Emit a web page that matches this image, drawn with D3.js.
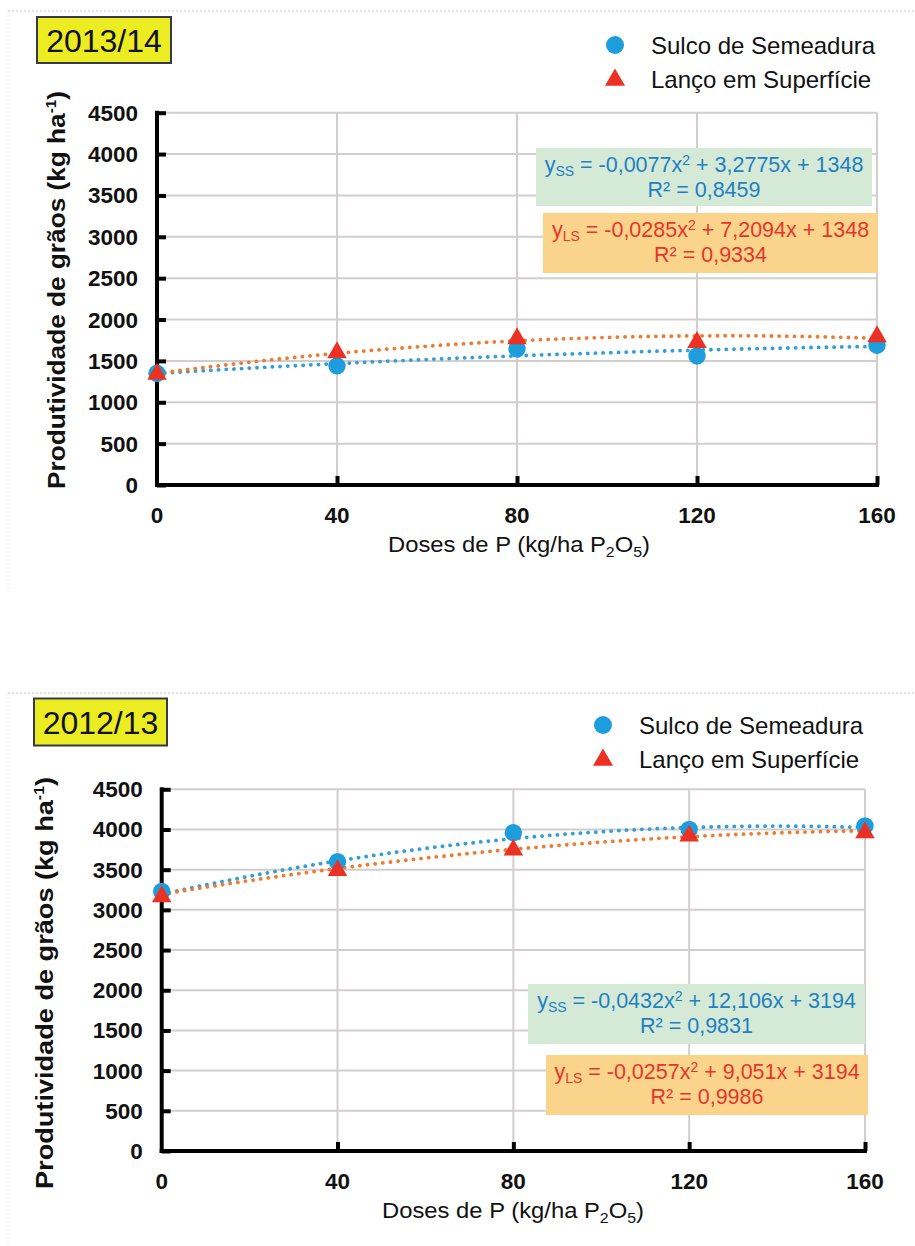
<!DOCTYPE html>
<html>
<head>
<meta charset="utf-8">
<script src="https://cdn.jsdelivr.net/npm/d3@7"></script>
<style>
  html, body { margin: 0; padding: 0; background: #ffffff; }
  svg { display: block; }
  text { font-family: "Liberation Sans", Arial, sans-serif; }
</style>
</head>
<body>
<svg id="chart" width="915" height="1246"></svg>
<script>
// Phosphorus doses (kg/ha P2O5) and grain yield axis ticks
const doses = [0, 40, 80, 120, 160];
const yTicks = [0, 500, 1000, 1500, 2000, 2500, 3000, 3500, 4000, 4500];
const seriesNames = ["Sulco de Semeadura", "Lanço em Superfície"];

// 2013/14 season – mean grain yield (kg/ha)
const ss1314 = [1350, 1440, 1645, 1560, 1690];
const ls1314 = [1340, 1600, 1770, 1725, 1795];
// fitted quadratic coefficients [a, b, c] for y = a x² + b x + c
const fitSS1314 = [-0.0077, 3.2775, 1348];
const fitLS1314 = [-0.0285, 7.2094, 1348];
const r2SS1314 = "0,8459";
const r2LS1314 = "0,9334";

// 2012/13 season
const ss1213 = [3230, 3600, 3960, 4000, 4045];
const ls1213 = [3165, 3490, 3745, 3920, 3960];
const fitSS1213 = [-0.0432, 12.106, 3194];
const fitLS1213 = [-0.0257, 9.051, 3194];
const r2SS1213 = "0,9831";
const r2LS1213 = "0,9986";

const C = {
  blueMark: "#1d9ddc",
  redMark: "#ea3124",
  blueLine: "#2f9ed9",
  orangeLine: "#ee7b30",
  blueText: "#1f80c3",
  redText: "#e8342c",
  grid: "#d3cece",
  greenBox: "#d4ead6",
  orangeBox: "#fbd48c",
  yellow: "#ecec22"
};

const svg = d3.select("#chart");

// faint page separators
function separators(y0, y1) {
  svg.append("line").attr("x1", 8).attr("x2", 915).attr("y1", y0).attr("y2", y0)
    .attr("stroke", "#cfc6c6").attr("stroke-width", 1).attr("stroke-dasharray", "2,2");
  svg.append("line").attr("x1", 8).attr("x2", 8).attr("y1", y0).attr("y2", y1)
    .attr("stroke", "#ebe6e6").attr("stroke-width", 1).attr("stroke-dasharray", "2,2");
}
separators(11, 590);
separators(693, 1246);

function fmtCoef(v, decimals) {
  return v.toFixed(decimals).replace(".", ",");
}

function drawPanel(p) {
  const g = svg.append("g");
  const x = d3.scaleLinear().domain([0, 160]).range([p.left, p.right]);
  const y = d3.scaleLinear().domain([0, 4500]).range([p.bottom, p.top]);

  // season label
  g.append("rect").attr("x", p.tag[0]).attr("y", p.tag[1])
    .attr("width", p.tag[2]).attr("height", p.tag[3])
    .attr("fill", C.yellow).attr("stroke", "#38384c").attr("stroke-width", 2);
  g.append("text").attr("x", p.tag[0] + p.tag[2] / 2).attr("y", p.tag[1] + p.tag[3] / 2 + 11.5)
    .attr("text-anchor", "middle").attr("font-size", 32).attr("fill", "#111")
    .text(p.season);

  // grid
  g.append("g").selectAll("line").data(yTicks.filter(d => d > 0)).join("line")
    .attr("x1", p.left).attr("x2", p.right)
    .attr("y1", d => y(d)).attr("y2", d => y(d))
    .attr("stroke", C.grid).attr("stroke-width", 2);
  g.append("g").selectAll("line").data(doses.filter(d => d > 0)).join("line")
    .attr("x1", d => x(d)).attr("x2", d => x(d))
    .attr("y1", p.top).attr("y2", p.bottom)
    .attr("stroke", C.grid).attr("stroke-width", 2);

  // axes (ticks point into the plot)
  const yAxis = d3.axisRight(y).tickValues(yTicks).tickSize(9).tickFormat("");
  const ya = g.append("g").attr("transform", `translate(${p.left},0)`).call(yAxis);
  ya.select(".domain").remove();
  ya.selectAll(".tick line").attr("stroke", "#000").attr("stroke-width", 4);
  g.append("line").attr("x1", p.left).attr("x2", p.left)
    .attr("y1", p.top - 2).attr("y2", p.bottom + 2)
    .attr("stroke", "#000").attr("stroke-width", 4);

  const xAxis = d3.axisTop(x).tickValues(doses.filter(d => d > 0)).tickSize(9).tickFormat("");
  const xa = g.append("g").attr("transform", `translate(0,${p.bottom})`).call(xAxis);
  xa.select(".domain").remove();
  xa.selectAll(".tick line").attr("stroke", "#000").attr("stroke-width", 4);
  g.append("line").attr("x1", p.left - 2).attr("x2", p.right + 2)
    .attr("y1", p.bottom).attr("y2", p.bottom)
    .attr("stroke", "#000").attr("stroke-width", 4);

  // tick labels
  g.append("g").selectAll("text").data(yTicks).join("text")
    .attr("x", p.left - 19).attr("y", d => y(d) + 8)
    .attr("text-anchor", "end").attr("font-size", 22.5).attr("font-weight", "bold")
    .attr("fill", "#111").text(d => d);
  g.append("g").selectAll("text").data(doses).join("text")
    .attr("x", d => x(d)).attr("y", p.bottom + 38)
    .attr("text-anchor", "middle").attr("font-size", 22.5).attr("font-weight", "bold")
    .attr("fill", "#111").text(d => d);

  // axis titles
  const xt = g.append("text").attr("x", p.xTitleX).attr("y", p.bottom + 67)
    .attr("text-anchor", "middle").attr("font-size", 22.5).attr("fill", "#111")
    .attr("textLength", 262).attr("lengthAdjust", "spacingAndGlyphs");
  xt.append("tspan").text("Doses de P (kg/ha P");
  xt.append("tspan").attr("font-size", 15).attr("dy", 5).text("2");
  xt.append("tspan").attr("dy", -5).text("O");
  xt.append("tspan").attr("font-size", 15).attr("dy", 5).text("5");
  xt.append("tspan").attr("dy", -5).text(")");

  const yt = g.append("text")
    .attr("transform", `translate(${p.yTitleX},${p.yTitleY}) rotate(-90)`)
    .attr("text-anchor", "middle").attr("font-size", 24).attr("font-weight", "bold").attr("fill", "#111")
    .attr("textLength", p.yTitleLen).attr("lengthAdjust", "spacingAndGlyphs");
  yt.append("tspan").text("Produtividade de grãos (kg ha");
  yt.append("tspan").attr("font-size", 14).attr("dy", -9).text("-1");
  yt.append("tspan").attr("dy", 9).text(")");

  // fitted curves (dotted)
  const xs = d3.range(0, 160.01, 2);
  const curve = coef => xs.map(v => [v, coef[0] * v * v + coef[1] * v + coef[2]]);
  const line = d3.line().x(d => x(d[0])).y(d => y(d[1]));
  [[p.fitSS, C.blueLine], [p.fitLS, C.orangeLine]].forEach(([coef, col]) => {
    g.append("path").attr("d", line(curve(coef))).attr("fill", "none")
      .attr("stroke", col).attr("stroke-width", 3.8)
      .attr("stroke-linecap", "round").attr("stroke-dasharray", "0.1,7.6");
  });

  // observed means
  const tri = d3.symbol().type(d3.symbolTriangle).size(165);
  g.append("g").selectAll("circle").data(doses).join("circle")
    .attr("cx", d => x(d)).attr("cy", (d, i) => y(p.ss[i])).attr("r", 8.7)
    .attr("fill", C.blueMark);
  g.append("g").selectAll("path").data(doses).join("path")
    .attr("d", tri)
    .attr("transform", (d, i) => `translate(${x(d)},${y(p.ls[i])})`)
    .attr("fill", C.redMark);

  // legend
  const lg = g.append("g");
  lg.append("circle").attr("cx", p.legend[0]).attr("cy", p.legend[1]).attr("r", 9).attr("fill", C.blueMark);
  lg.append("path").attr("d", tri.size(175)())
    .attr("transform", `translate(${p.legend[0]},${p.legend[1] + 35})`).attr("fill", C.redMark);
  seriesNames.forEach((n, i) => {
    lg.append("text").attr("x", p.legend[0] + 36).attr("y", p.legend[1] + 9 + i * 34)
      .attr("font-size", 24).attr("fill", "#111").text(n);
  });

  // equation boxes
  function eqBox(box, sub, coef, bDec, r2, fill, col) {
    g.append("rect").attr("x", box[0]).attr("y", box[1]).attr("width", box[2]).attr("height", box[3])
      .attr("fill", fill);
    const cx = box[0] + box[2] / 2;
    const t1 = g.append("text").attr("x", cx).attr("y", box[1] + 24)
      .attr("text-anchor", "middle").attr("font-size", 21.5).attr("fill", col);
    t1.append("tspan").text("y");
    t1.append("tspan").attr("font-size", 14).attr("dy", 4).text(sub);
    t1.append("tspan").attr("dy", -4).text(" = " + fmtCoef(coef[0], 4) + "x");
    t1.append("tspan").attr("font-size", 14).attr("dy", -7).text("2");
    t1.append("tspan").attr("dy", 7).text(" + " + fmtCoef(coef[1], bDec) + "x + " + coef[2]);
    g.append("text").attr("x", cx).attr("y", box[1] + 49)
      .attr("text-anchor", "middle").attr("font-size", 21.5).attr("fill", col)
      .text("R² = " + r2);
  }
  eqBox(p.boxSS, "SS", p.fitSS, p.decSS, p.r2SS, C.greenBox, C.blueText);
  eqBox(p.boxLS, "LS", p.fitLS, p.decLS, p.r2LS, C.orangeBox, C.redText);
}

drawPanel({
  season: "2013/14",
  left: 157, right: 877, top: 112.7, bottom: 485,
  tag: [37, 17, 134, 46],
  legend: [615, 45],
  xTitleX: 519,
  yTitleX: 65, yTitleY: 290, yTitleLen: 398,
  ss: ss1314, ls: ls1314,
  fitSS: fitSS1314, fitLS: fitLS1314, decSS: 4, decLS: 4,
  r2SS: r2SS1314, r2LS: r2LS1314,
  boxSS: [536, 148, 336, 58],
  boxLS: [543, 213, 335, 60]
});

drawPanel({
  season: "2012/13",
  left: 161.7, right: 865, top: 789.3, bottom: 1151,
  tag: [34, 698.5, 133, 47],
  legend: [603, 725],
  xTitleX: 513,
  yTitleX: 53, yTitleY: 983, yTitleLen: 412,
  ss: ss1213, ls: ls1213,
  fitSS: fitSS1213, fitLS: fitLS1213, decSS: 3, decLS: 3,
  r2SS: r2SS1213, r2LS: r2LS1213,
  boxSS: [528, 984, 337, 60],
  boxLS: [546, 1055, 322, 60]
});
</script>
</body>
</html>
